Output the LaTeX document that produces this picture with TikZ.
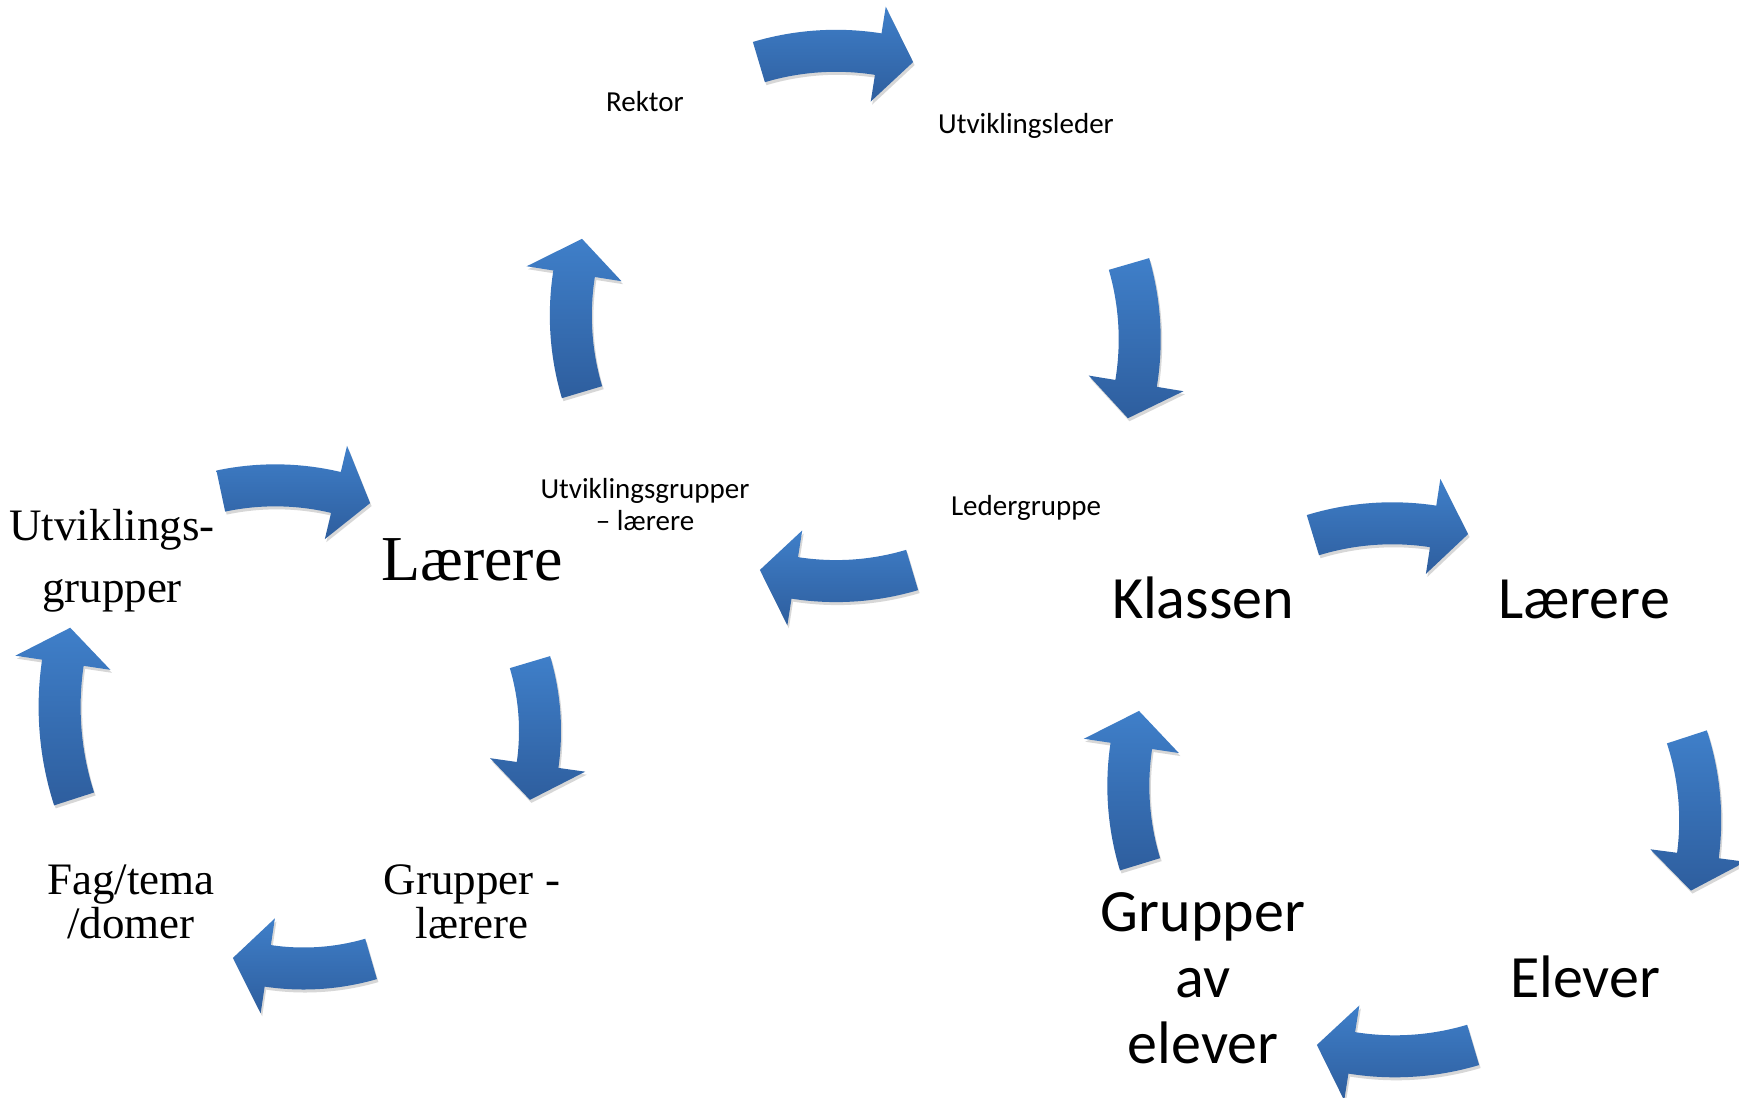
\documentclass[tikz,border=0pt]{standalone}
\usepackage{fontspec}
\setmainfont{Liberation Serif}
\newfontfamily\calfont{Carlito}
\usetikzlibrary{shadows}
\definecolor{arrowlight}{HTML}{3F7FC9}
\definecolor{arrowdark}{HTML}{2E5E9E}
\tikzset{
  cyclearrow/.style={top color=arrowlight, bottom color=arrowdark,
    drop shadow={shadow xshift=1.5pt, shadow yshift=-3pt, opacity=0.22, fill=black!70}},
  smalllabel/.style={font=\calfont\fontsize{29}{32}\selectfont, align=center, inner sep=0pt, anchor=base},
  biglabel/.style={font=\calfont\fontsize{60}{66}\selectfont, align=center, inner sep=0pt, anchor=base},
  serifbig/.style={font=\fontsize{64}{70}\selectfont, align=center, inner sep=0pt, anchor=base},
  serifmid/.style={font=\fontsize{45}{44}\selectfont, align=center, inner sep=0pt, anchor=base},
  serifwide/.style={font=\fontsize{45}{62}\selectfont, align=center, inner sep=0pt, anchor=base},
}
% curved block arrow: centre x, centre y, middle angle (image coords, clockwise), scale
\newcommand{\cycarrow}[4]{%
  \pgfmathsetmacro\caR{270*#4}%
  \pgfmathsetmacro\caRo{270*#4+21}%
  \pgfmathsetmacro\caRi{270*#4-21}%
  \pgfmathsetmacro\caRh{270*#4+48}%
  \pgfmathsetmacro\caRl{270*#4-48}%
  \pgfmathsetmacro\caTa{#3-16.6}%
  \pgfmathsetmacro\caTb{#3+16.6-7.6/#4}%
  \pgfmathsetmacro\caTt{#3+16.6}%
  \path[cyclearrow, shift={(#1,#2)}]
    (\caTa:\caRo) arc[start angle=\caTa, end angle=\caTb, radius=\caRo]
    -- (\caTb:\caRh) -- (\caTt:\caR) -- (\caTb:\caRl) -- (\caTb:\caRi)
    arc[start angle=\caTb, end angle=\caTa, radius=\caRi] -- cycle;
}
\begin{document}
\begin{tikzpicture}[x=1pt, y=-1pt]
\useasboundingbox (0,0) rectangle (1739,1097);
\fill[white] (0,0) rectangle (1739,1097);

% upper cycle
\cycarrow{836}{320.8}{-90}{1}
\cycarrow{869.7}{339.3}{0.4}{1}
\cycarrow{836}{314.6}{90}{0.987}
\cycarrow{839.2}{315.5}{180}{0.994}
% left cycle
\cycarrow{275.3}{747.5}{-85.4}{0.971}
\cycarrow{298.9}{731}{0}{0.893}
\cycarrow{303.6}{726.6}{90.4}{0.896}
\cycarrow{359.3}{706.8}{178.7}{1.11}
% right cycle
\cycarrow{1392.3}{794.9}{-90.4}{1.006}
\cycarrow{1431}{820.5}{-1.5}{0.997}
\cycarrow{1395}{782.8}{90}{1.013}
\cycarrow{1396.7}{785.8}{179.6}{0.994}

% upper cycle labels (anchor = baseline of last line)
\node[smalllabel] (rektor) at (645,112) {Rektor};
\node[smalllabel] (utvleder) at (1026,133) {Utviklingsleder};
\node[smalllabel] (ledergr) at (1026,515) {Ledergruppe};
\node[smalllabel] (utvgrl) at (645,530) {Utviklingsgrupper\\– lærere};

% right cycle labels
\node[biglabel] (klassen) at (1203,618) {Klassen};
\node[biglabel] (laererR) at (1584,618) {Lærere};
\node[biglabel] (elever) at (1585,997) {Elever};
\node[biglabel] (grupperelev) at (1203,1063) {Grupper\\av\\elever};

% left cycle labels
\node[serifwide] (utvgr) at (112,602) {Utviklings-\\grupper};
\node[serifbig] (laererL) at (472,580) {Lærere};
\node[serifmid] (grupperl) at (472,938) {Grupper -\\lærere};
\node[serifmid] (fag) at (131,938) {Fag/tema\\/domer};
\end{tikzpicture}
\end{document}
